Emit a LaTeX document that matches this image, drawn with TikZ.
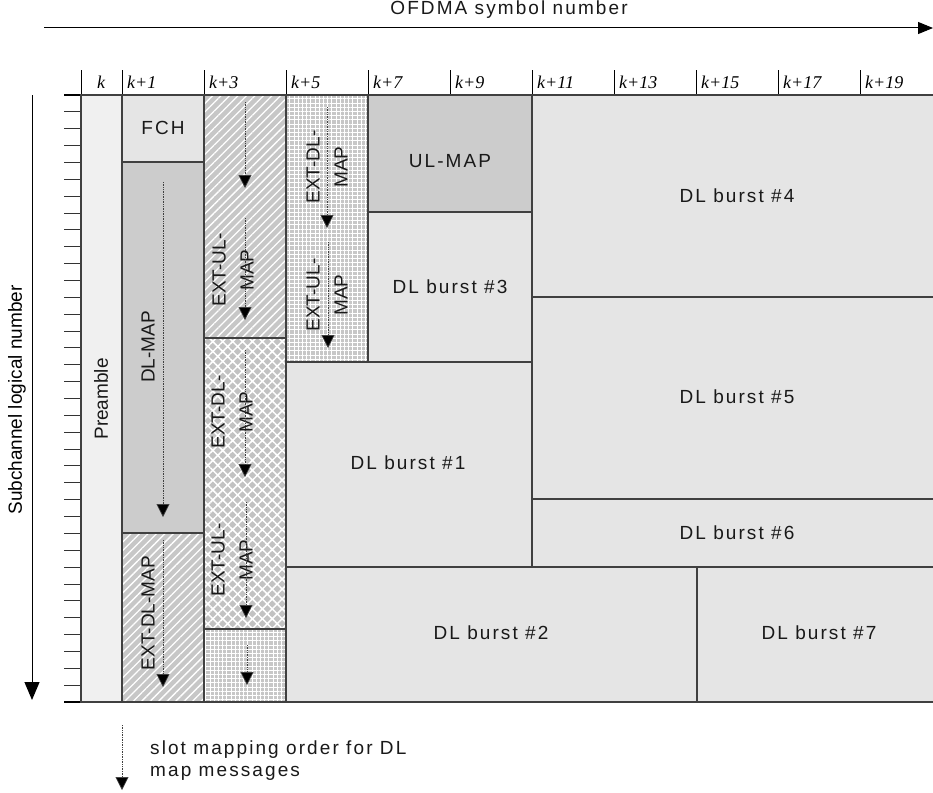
\documentclass[tikz,border=0pt]{standalone}
\usepackage{fontspec}
\setmainfont{Liberation Sans}
\newfontfamily\spacedfont[LetterSpace=11]{Liberation Sans}
\newfontfamily\symfont{Liberation Serif}
\usetikzlibrary{patterns.meta,arrows.meta}

\tikzset{
    block/.style={draw=black!75, line width=1.1pt},
    lbl/.style={font=\spacedfont\fontsize{19}{22}\selectfont, text=black!90, inner sep=0pt},
    vlbl/.style={font=\fontsize{19}{28}\selectfont, text=black!90, inner sep=0pt, rotate=90, align=center},
    hdr/.style={font=\symfont\itshape\fontsize{18}{20}\selectfont, inner sep=0pt},
    slot/.style={densely dotted, line width=0.7pt, draw=black!75, -{Triangle[width=13pt,length=13pt,fill=black]}},
    hatchfill/.style={block, preaction={fill=black!22}, pattern={Lines[angle=45,distance=6pt,line width=1.3pt]}, pattern color=white},
    crossfill/.style={block, preaction={fill=black!24}, pattern={Hatch[angle=45,distance=7pt,line width=1.5pt]}, pattern color=white},
    gridfill/.style={block, preaction={fill=black!22}, pattern={Hatch[angle=0,distance=4.2pt,line width=1pt]}, pattern color=white},
}

\begin{document}
\begin{tikzpicture}[x=1pt, y=-1pt]
        \clip (0,0) rectangle (933,792);
        \fill[white] (0,0) rectangle (933,792);

        % axes
        \draw[line width=1pt, -{Triangle[width=12pt,length=15pt]}] (44,28) -- (933,28);
        \node[lbl] (xaxis) at (509,10) {OFDMA symbol number};
        \draw[line width=1pt, -{Triangle[width=15pt,length=18pt]}] (32,95) -- (32,700);
        \node[font=\fontsize{19}{22}\selectfont, rotate=90, inner sep=0pt] (yaxis) at (17,400) {Subchannel logical number};

        % header
        \foreach \x in {81,122,204,286,368,450,532,614,696,778,860}
            \draw[line width=0.9pt] (\x,70) -- (\x,95);
        \draw[line width=1.1pt] (64,95) -- (945,95);
        \node[hdr] (h0) at (101,82) {k};
        \node[hdr, anchor=west] (h1) at (127,82) {k+1};
        \node[hdr, anchor=west] (h2) at (209,82) {k+3};
        \node[hdr, anchor=west] (h3) at (291,82) {k+5};
        \node[hdr, anchor=west] (h4) at (373,82) {k+7};
        \node[hdr, anchor=west] (h5) at (455,82) {k+9};
        \node[hdr, anchor=west] (h6) at (537,82) {k+11};
        \node[hdr, anchor=west] (h7) at (619,82) {k+13};
        \node[hdr, anchor=west] (h8) at (701,82) {k+15};
        \node[hdr, anchor=west] (h9) at (783,82) {k+17};
        \node[hdr, anchor=west] (h10) at (865,82) {k+19};

        % slot ticks
        \foreach \i in {1,...,35}
            \draw[line width=0.9pt, black!80] (64,95+16.861*\i) -- (81,95+16.861*\i);
        \draw[line width=1.1pt] (64,702) -- (945,702);

        % blocks
        \draw[block, fill=black!6] (81,95) rectangle (122,702);
        \draw[block, fill=black!10] (122,95) rectangle (204,162);
        \draw[block, fill=black!20] (122,162) rectangle (204,533);
        \draw[hatchfill] (122,533) rectangle (204,702);
        \draw[hatchfill] (204,95) rectangle (286,338);
        \draw[crossfill] (204,338) rectangle (286,629);
        \draw[gridfill] (204,629) rectangle (286,702);
        \draw[gridfill] (286,95) rectangle (368,362);
        \draw[block, fill=black!20] (368,95) rectangle (532,212);
        \draw[block, fill=black!10] (368,212) rectangle (532,362);
        \draw[block, fill=black!10] (286,362) rectangle (532,567);
        \draw[block, fill=black!10] (286,567) rectangle (697,702);
        \draw[block, fill=black!10] (697,567) rectangle (945,702);
        \draw[block, fill=black!10] (532,95) rectangle (945,297);
        \draw[block, fill=black!10] (532,297) rectangle (945,499);
        \draw[block, fill=black!10] (532,499) rectangle (945,567);

        % labels
        \node[vlbl] (pre) at (101,399) {Preamble};
        \node[lbl] (fch) at (163,128) {FCH};
        \node[vlbl] (dlmap) at (148,347) {DL-MAP};
        \node[vlbl] (extdl1) at (148,613) {EXT-DL-MAP};
        \node[vlbl] (extul3) at (233,270) {EXT-UL-\\MAP};
        \node[vlbl] (extdl3) at (232,412) {EXT-DL-\\MAP};
        \node[vlbl] (extul3b) at (232,560) {EXT-UL-\\MAP};
        \node[vlbl] (extdl5) at (327,167) {EXT-DL-\\MAP};
        \node[vlbl] (extul5) at (327,295) {EXT-UL-\\MAP};
        \node[lbl] (ulmap) at (450,161) {UL-MAP};
        \node[lbl] (dl3) at (450,287) {DL burst \#3};
        \node[lbl] (dl1) at (408,463) {DL burst \#1};
        \node[lbl] (dl2) at (491,633) {DL burst \#2};
        \node[lbl] (dl4) at (737,196) {DL burst \#4};
        \node[lbl] (dl5) at (737,397) {DL burst \#5};
        \node[lbl] (dl6) at (737,533) {DL burst \#6};
        \node[lbl] (dl7) at (819,633) {DL burst \#7};

        % slot order
        \draw[slot] (163,182) -- (163,517);
        \draw[slot] (163,540) -- (163,687);
        \draw[slot] (245,102) -- (245,188);
        \draw[slot] (245,218) -- (245,320);
        \draw[slot] (245,350) -- (245,477);
        \draw[slot] (246,502) -- (246,618);
        \draw[slot] (247,645) -- (247,685);
        \draw[slot] (327,107) -- (327,228);
        \draw[slot] (328,242) -- (328,348);

        % legend
        \draw[slot] (122,725) -- (122,790);
        \node[lbl, anchor=west, align=left, font=\spacedfont\fontsize{19}{22}\selectfont] (legend) at (150,761) {slot mapping order for DL\\map messages};
\end{tikzpicture}
\end{document}
